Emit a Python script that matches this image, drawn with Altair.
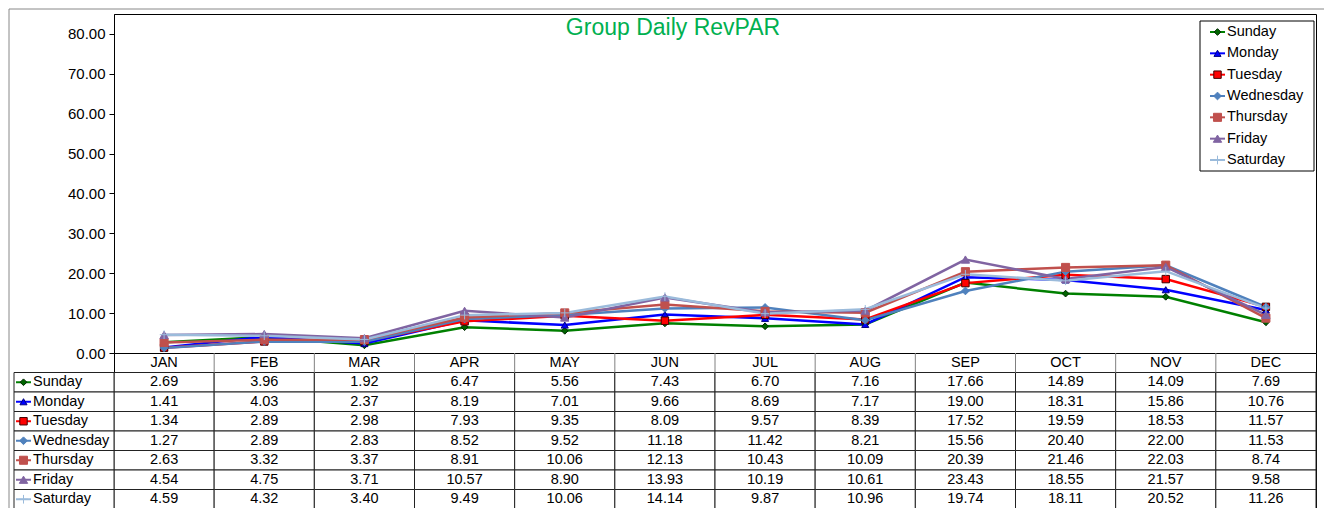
import altair as alt
import pandas as pd

# ---------------- data ----------------
months = ["JAN", "FEB", "MAR", "APR", "MAY", "JUN", "JUL", "AUG", "SEP", "OCT", "NOV", "DEC"]
days = ["Sunday", "Monday", "Tuesday", "Wednesday", "Thursday", "Friday", "Saturday"]

sunday = [2.69, 3.96, 1.92, 6.47, 5.56, 7.43, 6.70, 7.16, 17.66, 14.89, 14.09, 7.69]
monday = [1.41, 4.03, 2.37, 8.19, 7.01, 9.66, 8.69, 7.17, 19.00, 18.31, 15.86, 10.76]
tuesday = [1.34, 2.89, 2.98, 7.93, 9.35, 8.09, 9.57, 8.39, 17.52, 19.59, 18.53, 11.57]
wednesday = [1.27, 2.89, 2.83, 8.52, 9.52, 11.18, 11.42, 8.21, 15.56, 20.40, 22.00, 11.53]
thursday = [2.63, 3.32, 3.37, 8.91, 10.06, 12.13, 10.43, 10.09, 20.39, 21.46, 22.03, 8.74]
friday = [4.54, 4.75, 3.71, 10.57, 8.90, 13.93, 10.19, 10.61, 23.43, 18.55, 21.57, 9.58]
saturday = [4.59, 4.32, 3.40, 9.49, 10.06, 14.14, 9.87, 10.96, 19.74, 18.11, 20.52, 11.26]

y_ticks = [0, 10, 20, 30, 40, 50, 60, 70, 80]
title_text = "Group Daily RevPAR"

series = [sunday, monday, tuesday, wednesday, thursday, friday, saturday]

# ---------------- styles ----------------
FONT = "Liberation Sans"
line_colors = ["#008000", "#0000FF", "#FF0000", "#4F81BD", "#C0504D", "#8064A2", "#9BBBDB"]
marker_fill = ["#006400", "#0000FF", "#FF0000", "#4F81BD", "#C0504D", "#8064A2", "#9BBBDB"]
marker_stroke = ["#002800", "#000080", "#400000", "#4F81BD", "#C0504D", "#8064A2", "#9BBBDB"]
marker_shapes = ["diamond", "triangle-up", "square", "diamond", "square", "triangle-up",
                 "M-1,0H1M0,-1V1"]
marker_sizes = [45, 75, 100, 55, 60, 70, 90]

rows = []
for d, vals in zip(days, series):
    for m, v in zip(months, vals):
        rows.append({"day": d, "month": m, "value": v})
df = pd.DataFrame(rows)

W, H, TH = 1202, 339, 156

color_scale = alt.Scale(domain=days, range=line_colors)
fill_scale = alt.Scale(domain=days, range=marker_fill)
stroke_scale = alt.Scale(domain=days, range=marker_stroke)
shape_scale = alt.Scale(domain=days, range=marker_shapes)
size_scale = alt.Scale(domain=days, range=marker_sizes)


def marker_enc():
    return dict(
        fill=alt.Fill("day:N", scale=fill_scale, legend=None),
        stroke=alt.Stroke("day:N", scale=stroke_scale, legend=None),
        shape=alt.Shape("day:N", scale=shape_scale, legend=None),
        size=alt.Size("day:N", scale=size_scale, legend=None),
    )


# ---------------- line chart ----------------
X = alt.X("month:O", sort=months, scale=alt.Scale(type="point", domain=months, padding=0.5), axis=None)
Y = alt.Y("value:Q", scale=alt.Scale(domain=[0, 85], nice=False, zero=True),
          axis=alt.Axis(values=y_ticks, format=".2f", grid=False, tickSize=5, tickColor="black",
                        domainColor="black", labelColor="black", labelFontSize=15, labelFont=FONT,
                        labelPadding=4, title=None))

base = alt.Chart(df)
lines = base.mark_line(strokeWidth=2.5).encode(
    x=X, y=Y, color=alt.Color("day:N", scale=color_scale, legend=None))
points = base.mark_point(filled=True, opacity=1, strokeWidth=1).encode(x=X, y=Y, **marker_enc())
data_layer = alt.layer(lines, points)

one = pd.DataFrame({"t": [title_text]})
title = alt.Chart(one).mark_text(font=FONT, fontSize=23, color="#00B050", align="center",
                                 baseline="middle").encode(
    x=alt.value(559), y=alt.value(14), text="t:N")

border_top = alt.Chart(one).mark_rule(color="#888888", strokeWidth=1).encode(
    x=alt.value(-105), x2=alt.value(1210), y=alt.value(-5))
border_left = alt.Chart(one).mark_rule(color="#888888", strokeWidth=1).encode(
    x=alt.value(-105), y=alt.value(-5), y2=alt.value(494))

# legend
leg_df = pd.DataFrame({"day": days})
LY = alt.Y("day:N", scale=alt.Scale(type="point", domain=days, range=[18, 146], padding=0), axis=None)
leg_box = alt.Chart(one).mark_rect(fill="white", stroke="black", strokeWidth=1).encode(
    x=alt.value(1086), x2=alt.value(1200), y=alt.value(7), y2=alt.value(157))
leg_rule = alt.Chart(leg_df).mark_rule(strokeWidth=2).encode(
    x=alt.value(1096), x2=alt.value(1111), y=LY,
    color=alt.Color("day:N", scale=color_scale, legend=None))
leg_pts = alt.Chart(leg_df).mark_point(filled=True, opacity=1, strokeWidth=1).encode(
    x=alt.value(1103.5), y=LY, **marker_enc())
leg_text = alt.Chart(leg_df).mark_text(font=FONT, fontSize=14.5, align="left", baseline="middle",
                                       color="black").encode(
    x=alt.value(1113), y=LY, text="day:N")
legend = alt.layer(leg_box, leg_rule, leg_pts, leg_text)

top = alt.layer(border_top, border_left, data_layer, title, legend).resolve_scale(
    y="independent").properties(width=W, height=H)

# ---------------- data table ----------------
Xb = alt.X("month:N", sort=months,
           scale=alt.Scale(type="band", domain=months, paddingInner=0, paddingOuter=0), axis=None)
Yb = alt.Y("day:N", scale=alt.Scale(type="band", domain=["hdr"] + days, paddingInner=0,
                                    paddingOuter=0), axis=None)
Ybc = alt.Y("day:N", bandPosition=0.5,
            scale=alt.Scale(type="band", domain=["hdr"] + days, paddingInner=0, paddingOuter=0),
            axis=None)

tbase = alt.Chart(df)
cells = tbase.mark_rect(fill="white", stroke="#222222", strokeWidth=1).encode(x=Xb, y=Yb)
vals = tbase.mark_text(font=FONT, fontSize=14.5, color="black", align="center",
                       baseline="middle").encode(
    x=Xb, y=Ybc, text=alt.Text("value:Q", format=".2f"))

hdr_df = pd.DataFrame({"month": months, "day": ["hdr"] * len(months)})
hdr_text = alt.Chart(hdr_df).mark_text(font=FONT, fontSize=14.5, color="black", align="center",
                                       baseline="middle").encode(x=Xb, y=Ybc, text="month:N")
sep_df = pd.DataFrame({"month": months[1:]})
hdr_seps = alt.Chart(sep_df).mark_rule(color="#808080", strokeWidth=1).encode(
    x=alt.X("month:N", sort=months, bandPosition=0,
            scale=alt.Scale(type="band", domain=months, paddingInner=0, paddingOuter=0), axis=None),
    y=alt.value(0), y2=alt.value(TH / 8))

lab_cells = alt.Chart(leg_df).mark_rect(fill="white", stroke="#222222", strokeWidth=1).encode(
    x=alt.value(-100), x2=alt.value(0), y=Yb)
lab_rule = alt.Chart(leg_df).mark_rule(strokeWidth=2).encode(
    x=alt.value(-98), x2=alt.value(-83), y=Ybc,
    color=alt.Color("day:N", scale=color_scale, legend=None))
lab_pts = alt.Chart(leg_df).mark_point(filled=True, opacity=1, strokeWidth=1).encode(
    x=alt.value(-90.5), y=Ybc, **marker_enc())
lab_text = alt.Chart(leg_df).mark_text(font=FONT, fontSize=14.5, align="left", baseline="middle",
                                       color="black").encode(
    x=alt.value(-81), y=Ybc, text="day:N")

table = alt.layer(cells, hdr_seps, lab_cells, vals, hdr_text, lab_rule, lab_pts,
                  lab_text).properties(width=W, height=TH)

chart = alt.vconcat(top, table, spacing=0, bounds="flush").properties(
    padding=0, background="white").configure_view(stroke="black", strokeWidth=1)

chart.save("out.html", embed_options={"renderer": "svg", "actions": False})
